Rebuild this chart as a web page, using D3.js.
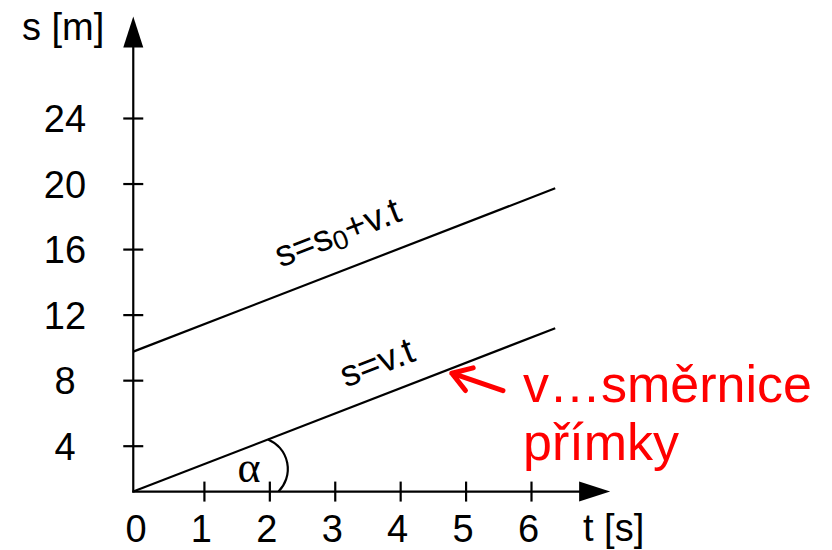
<!DOCTYPE html>
<html>
<head>
<meta charset="utf-8">
<script src="https://cdn.jsdelivr.net/npm/d3@7"></script>
<style>
  html, body { margin: 0; padding: 0; background: #fff; }
  svg { display: block; }
</style>
</head>
<body>
<svg id="chart" width="832" height="550"></svg>
<script>
// Time axis t [s] and position axis s [m]
const tTickValues = [1, 2, 3, 4, 5, 6];
const tLabelValues = [0, 1, 2, 3, 4, 5, 6];
const sTickValues = [4, 8, 12, 16, 20, 24];
const tAxisRange = [-0.08, 7.21];   // from the origin to the arrow tip
const sAxisRange = [1.2, 30.2];

// Two parallel lines of uniform motion
const lineT = [-0.08, 6.37];
const sLower = [1.2, 11.17];        // s = v.t
const sUpper = [9.74, 19.71];       // s = s0 + v.t

// Annotation texts
const axisTitleS = "s [m]";
const axisTitleT = "t [s]";
const noteLines = ["v…směrnice", "přímky"];

const svg = d3.select("#chart");
const sans = "'Liberation Sans', Arial, sans-serif";
const serif = "'Liberation Serif', 'Times New Roman', serif";
const lw = 2.2;

const x = d3.scaleLinear().domain([0, 6]).range([138.5, 531]);
const y = d3.scaleLinear().domain([4, 24]).range([445.7, 118]);

const ox = x(tAxisRange[0]), oy = y(sAxisRange[0]);
const xEnd = x(tAxisRange[1]), yEnd = y(sAxisRange[1]);
const headLen = 31, headHalf = 10;

// ---- horizontal axis ----
const xAxis = svg.append("g")
  .attr("transform", `translate(0,${oy})`)
  .call(d3.axisBottom(x).tickValues(tLabelValues).tickFormat(d3.format("d")).tickSizeOuter(0));
xAxis.select(".domain").remove();
xAxis.selectAll(".tick line")
  .attr("y1", -10).attr("y2", 10)
  .attr("stroke", "#000").attr("stroke-width", lw)
  .filter(d => !tTickValues.includes(d)).remove();
xAxis.selectAll(".tick text")
  .attr("x", -3).attr("y", 50.5).attr("dy", null)
  .attr("font-family", sans).attr("font-size", 38).attr("fill", "#000");

// ---- vertical axis ----
const yAxis = svg.append("g")
  .attr("transform", `translate(${ox},0)`)
  .call(d3.axisLeft(y).tickValues(sTickValues).tickFormat(d3.format("d")).tickSizeOuter(0));
yAxis.select(".domain").remove();
yAxis.selectAll(".tick line")
  .attr("x1", -10).attr("x2", 10)
  .attr("stroke", "#000").attr("stroke-width", lw);
yAxis.selectAll(".tick text")
  .attr("x", 65 - ox).attr("dy", "0.36em")
  .attr("text-anchor", "middle")
  .attr("font-family", sans).attr("font-size", 38).attr("fill", "#000");

// axis lines with arrow heads
svg.append("line")
  .attr("x1", ox - 1).attr("y1", oy).attr("x2", xEnd - headLen + 2).attr("y2", oy)
  .attr("stroke", "#000").attr("stroke-width", lw);
svg.append("path")
  .attr("d", `M${xEnd},${oy}L${xEnd - headLen},${oy - headHalf}L${xEnd - headLen},${oy + headHalf}Z`)
  .attr("fill", "#000");
svg.append("line")
  .attr("x1", ox).attr("y1", oy + 1).attr("x2", ox).attr("y2", yEnd + headLen - 2)
  .attr("stroke", "#000").attr("stroke-width", lw);
svg.append("path")
  .attr("d", `M${ox},${yEnd}L${ox - headHalf},${yEnd + headLen}L${ox + headHalf},${yEnd + headLen}Z`)
  .attr("fill", "#000");

// axis titles
svg.append("text").text(axisTitleS)
  .attr("x", 22).attr("y", 40)
  .attr("font-family", sans).attr("font-size", 38).attr("fill", "#000");
svg.append("text").text(axisTitleT)
  .attr("x", 583).attr("y", 541)
  .attr("font-family", sans).attr("font-size", 38).attr("fill", "#000");

// ---- lines ----
const lines = [sLower, sUpper].map(s => lineT.map((t, i) => ({ t, s: s[i] })));
const sAt = (pts, t) => pts[0].s + (t - pts[0].t) * (pts[1].s - pts[0].s) / (pts[1].t - pts[0].t);
const lineGen = d3.line().x(d => x(d.t)).y(d => y(d.s));

svg.selectAll("path.motion")
  .data(lines)
  .join("path")
  .attr("class", "motion")
  .attr("d", lineGen)
  .attr("fill", "none")
  .attr("stroke", "#000")
  .attr("stroke-width", lw);

// slope angle on screen
const p0 = lines[0][0], p1 = lines[0][1];
const ang = Math.atan2(y(p1.s) - y(p0.s), x(p1.t) - x(p0.t));
const angDeg = ang * 180 / Math.PI;
const nx = Math.sin(ang), ny = -Math.cos(ang);   // normal pointing above the line

// labels written along each line
const lineLabels = [
  { line: 0, t: 3.28, lift: 20, parts: [["s=v.t", false]] },
  { line: 1, t: 2.31, lift: 25, parts: [["s=s", false], ["0", true], ["+v.t", false]] }
];
lineLabels.forEach(lb => {
  const pts = lines[lb.line];
  const px = x(lb.t) + nx * lb.lift;
  const py = y(sAt(pts, lb.t)) + ny * lb.lift;
  const txt = svg.append("text")
    .attr("transform", `translate(${px},${py}) rotate(${angDeg})`)
    .attr("font-family", sans).attr("font-size", 37).attr("fill", "#000");
  let shifted = false;
  lb.parts.forEach(([str, sub]) => {
    const ts = txt.append("tspan").text(str);
    if (sub) { ts.attr("font-size", 27).attr("dy", 5); shifted = true; }
    else if (shifted) { ts.attr("dy", -5); shifted = false; }
  });
});

// angle alpha between the line s=v.t and the time axis
const arcT0 = 1.98, arcT1 = 2.14;
svg.append("path")
  .attr("d", `M${x(arcT0)},${y(sAt(lines[0], arcT0))}A32,32 0 0 1 ${x(arcT1)},${oy}`)
  .attr("fill", "none").attr("stroke", "#000").attr("stroke-width", lw);
svg.append("text").text("α")
  .attr("x", x(1.69)).attr("y", oy - 10)
  .attr("text-anchor", "middle")
  .attr("font-family", serif).attr("font-size", 44).attr("fill", "#000");

// red pointer to the lower line
const red = "#ff0000";
const tipT = 4.79;
const tipX = x(tipT), tipY = y(sAt(lines[0], tipT)) + 5;
const shaftAng = 18.8 * Math.PI / 180, barbAng = 33 * Math.PI / 180;
const shaftLen = 54, barbLen = 22;
const tailX = tipX + shaftLen * Math.cos(shaftAng), tailY = tipY + shaftLen * Math.sin(shaftAng);
const b1x = tipX + barbLen * Math.cos(shaftAng - barbAng), b1y = tipY + barbLen * Math.sin(shaftAng - barbAng);
const b2x = tipX + barbLen * Math.cos(shaftAng + barbAng), b2y = tipY + barbLen * Math.sin(shaftAng + barbAng);
svg.append("path")
  .attr("d", `M${b1x},${b1y}L${tipX},${tipY}L${b2x},${b2y}M${tipX},${tipY}L${tailX},${tailY}`)
  .attr("fill", "none").attr("stroke", red).attr("stroke-width", 5)
  .attr("stroke-linecap", "round").attr("stroke-linejoin", "round");

svg.selectAll("text.note")
  .data(noteLines)
  .join("text")
  .attr("class", "note")
  .attr("x", 523)
  .attr("y", (d, i) => 401.7 + i * 58.3)
  .attr("font-family", sans).attr("font-size", 52).attr("fill", red)
  .text(d => d);
</script>
</body>
</html>
